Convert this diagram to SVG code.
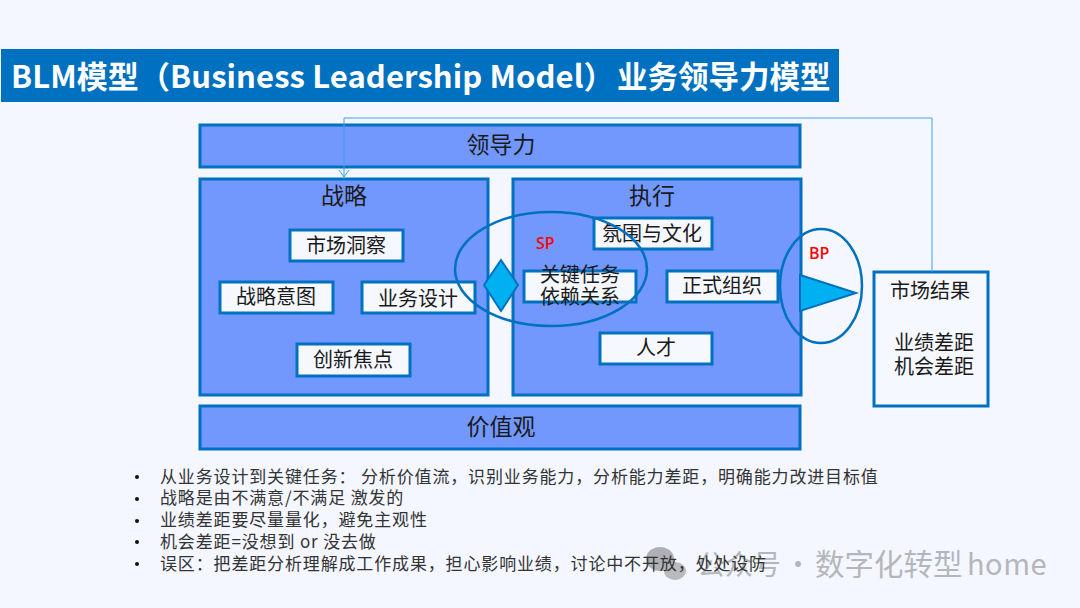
<svg xmlns="http://www.w3.org/2000/svg" width="1080" height="608" viewBox="0 0 1080 608">
<defs>
<marker id="open" markerWidth="12" markerHeight="10" refX="6" refY="9" orient="0" markerUnits="userSpaceOnUse"><path d="M1 2L6 9L11 2" fill="none" stroke="#3f9ff5" stroke-width="1"/></marker>
</defs>
<style>
text{font-family:"Noto Sans CJK SC","Noto Sans",sans-serif;fill:#1a1a1a}
.panel{fill:#7298fe;stroke:#0070c0;stroke-width:3}
.box{fill:#f5f8ff;stroke:#0070c0;stroke-width:3}
.ring{fill:none;stroke:#0070c0;stroke-width:2.5}
.acc{fill:#00b0f0;stroke:#0070c0;stroke-width:2}
.h{font-size:23px;text-anchor:middle}
.l{font-size:20px;text-anchor:middle}
.tag{font-family:"Open Sans","Noto Sans",sans-serif;font-size:16px;font-weight:600;fill:#ff0000}
.b{font-size:17px;fill:#333;letter-spacing:.85px}
.dot{fill:#111}
</style>
<rect width="1080" height="608" fill="#f4f7ff"/>
<g id="title"><rect x="1" y="49" width="838" height="53" fill="#0070c0"/>
<text x="11" y="88" font-size="31" font-weight="700" letter-spacing=".1" style="fill:#fff">BLM模型（Business Leadership Model）<tspan x="617" font-size="30.5" letter-spacing="0">业务领导力模型</tspan></text></g>
<g id="leadership"><rect class="panel" x="200" y="125" width="600" height="42"/><text class="h" x="501" y="153">领导力</text></g>
<g id="strategy"><rect class="panel" x="200" y="179" width="288" height="216"/><text class="h" x="344" y="204">战略</text></g>
<g id="execution"><rect class="panel" x="513" y="179" width="288" height="216"/><text class="h" x="652" y="204">执行</text></g>
<g id="values"><rect class="panel" x="200" y="406" width="600" height="43"/><text class="h" x="501" y="435">价值观</text></g>
<g id="market-insight"><rect class="box" x="290" y="230" width="113" height="31"/><text class="l" x="346" y="253">市场洞察</text></g>
<g id="strategic-intent"><rect class="box" x="220" y="282" width="113" height="31"/><text class="l" x="276" y="304">战略意图</text></g>
<g id="business-design"><rect class="box" x="362" y="282" width="113" height="31"/><text class="l" x="418" y="306">业务设计</text></g>
<g id="innovation"><rect class="box" x="297" y="344" width="113" height="32"/><text class="l" x="353" y="367">创新焦点</text></g>
<g id="culture"><rect class="box" x="594" y="218" width="118" height="31"/><text class="l" x="652" y="241">氛围与文化</text></g>
<g id="key-tasks"><rect class="box" x="524" y="271" width="112" height="31"/><text class="l" x="580" y="282">关键任务</text><text class="l" x="580" y="304">依赖关系</text></g>
<g id="formal-org"><rect class="box" x="667" y="271" width="111" height="31"/><text class="l" x="722" y="293">正式组织</text></g>
<g id="talent"><rect class="box" x="600" y="333" width="112" height="31"/><text class="l" x="656" y="355">人才</text></g>
<g id="sp"><ellipse class="ring" cx="551" cy="269" rx="96" ry="57"/><path class="acc" d="M501 260L518 285L501 311L484 285Z"/><text class="tag" x="536" y="249">SP</text></g>
<g id="bp"><ellipse class="ring" cx="821" cy="286" rx="41" ry="57"/><path class="acc" d="M800 275L856 293L800 311Z"/><text class="tag" x="809" y="259">BP</text></g>
<g id="market-result"><rect class="box" x="874" y="272" width="114" height="134"/><text class="l" x="930" y="298">市场结果</text><text class="l" x="934" y="350">业绩差距</text><text class="l" x="934" y="374">机会差距</text></g>
<g id="connectors"><path d="M932 272V118H344V177" fill="none" stroke="#3f9ff5" stroke-width="1" marker-end="url(#open)"/></g>
<g id="watermark">
<ellipse cx="660" cy="559" rx="14" ry="12" fill="#aeb0b5"/><ellipse cx="675" cy="571" rx="11" ry="9" fill="#b8babe"/>
<text x="697" y="575" font-size="28" style="fill:#b4b6bb">公众号<tspan x="784">·</tspan><tspan x="815" font-size="29.5">数字化转型</tspan><tspan x="967" font-size="29" letter-spacing=".5">home</tspan></text>
</g>
<g id="notes">
<circle class="dot" cx="137" cy="477" r="2"/><text class="b" x="160" y="483">从业务设计到关键任务： 分析价值流，识别业务能力，分析能力差距，明确能力改进目标值</text>
<circle class="dot" cx="137" cy="499" r="2"/><text class="b" x="160" y="504">战略是由不满意/不满足 激发的</text>
<circle class="dot" cx="137" cy="521" r="2"/><text class="b" x="160" y="526">业绩差距要尽量量化，避免主观性</text>
<circle class="dot" cx="137" cy="542" r="2"/><text class="b" x="160" y="548">机会差距=没想到 or 没去做</text>
<circle class="dot" cx="137" cy="564" r="2"/><text class="b" x="160" y="570">误区：把差距分析理解成工作成果，担心影响业绩，讨论中不开放，处处设防</text>
</g>
</svg>
